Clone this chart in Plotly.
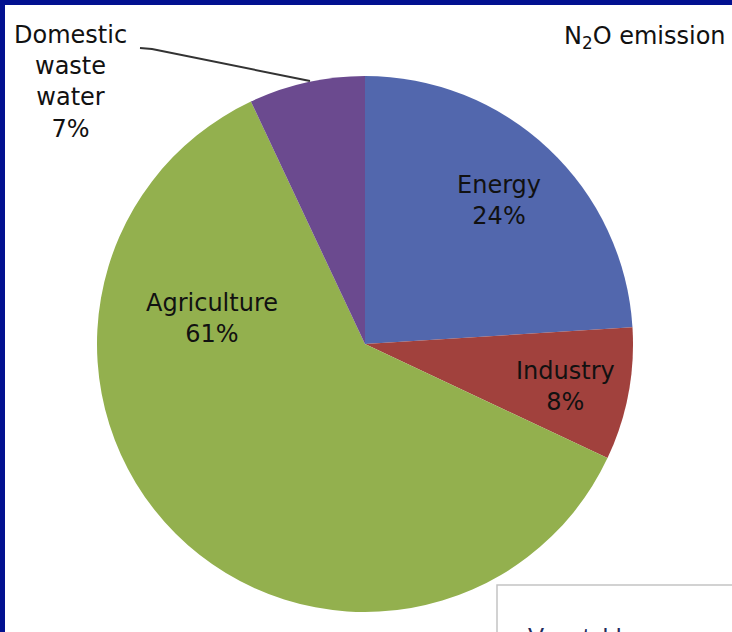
import plotly.graph_objects as go

# N2O emission shares by source (%)
sources = ["Energy", "Industry", "Agriculture", "Domestic waste water"]
shares = [24, 8, 61, 7]
slice_colors = ["#5267AD", "#A1413D", "#93B04E", "#6B4A8F"]

W, H = 732, 632


def px(x):
    return x / W


def py(y):
    return 1 - y / H


fig = go.Figure(
    go.Pie(
        labels=sources,
        values=shares,
        sort=False,
        direction="clockwise",
        rotation=0,
        textinfo="none",
        hoverinfo="label+percent",
        marker=dict(colors=slice_colors, line=dict(width=0)),
        domain=dict(x=[px(97), px(633)], y=[py(612), py(76)]),
        showlegend=False,
    )
)

font = dict(family="DejaVu Sans", size=24, color="#111111")

# label anchor points (page pixels) for each slice label
label_pos = {
    "Energy": (499, 200),
    "Industry": (565, 386),
    "Agriculture": (212, 318),
    "Domestic waste water": (70, 82),
}

annotations = []
for name, val in zip(sources, shares):
    x, y = label_pos[name]
    text = name.replace(" ", "<br>") if name == "Domestic waste water" else name
    annotations.append(
        dict(
            x=px(x), y=py(y), xref="paper", yref="paper",
            text=f"{text}<br>{val}%", showarrow=False,
            xanchor="center", yanchor="middle", align="center", font=font,
        )
    )

annotations.append(
    dict(
        x=px(728), y=py(38), xref="paper", yref="paper",
        text="N<sub>2</sub>O emission", showarrow=False,
        xanchor="right", yanchor="middle", font=font,
    )
)
annotations.append(
    dict(
        x=px(526), y=py(621), xref="paper", yref="paper",
        text="Vegetables", showarrow=False,
        xanchor="left", yanchor="top",
        font=dict(family="Liberation Sans", size=24, color="#1F2A5C"),
    )
)

shapes = [
    # frame on top and left
    dict(type="rect", xref="paper", yref="paper", x0=0, x1=1.01, y0=py(5), y1=1.01,
         fillcolor="#021190", line=dict(width=0), layer="above"),
    dict(type="rect", xref="paper", yref="paper", x0=-0.01, x1=px(5), y0=-0.01, y1=1.01,
         fillcolor="#021190", line=dict(width=0), layer="above"),
    # leader line for the small slice
    dict(type="path", xref="paper", yref="paper",
         path=f"M {px(140)} {py(48)} L {px(152)} {py(49)} L {px(310)} {py(81)}",
         line=dict(color="#333333", width=2)),
    # neighbouring panel box
    dict(type="rect", xref="paper", yref="paper", x0=px(497), x1=1.02, y0=-0.05, y1=py(585),
         fillcolor="white", line=dict(color="#c4c4c4", width=1.5), layer="below"),
]

fig.update_layout(
    width=W, height=H,
    margin=dict(l=0, r=0, t=0, b=0),
    paper_bgcolor="white",
    plot_bgcolor="white",
    annotations=annotations,
    shapes=shapes,
)

fig.write_html("out.html")
